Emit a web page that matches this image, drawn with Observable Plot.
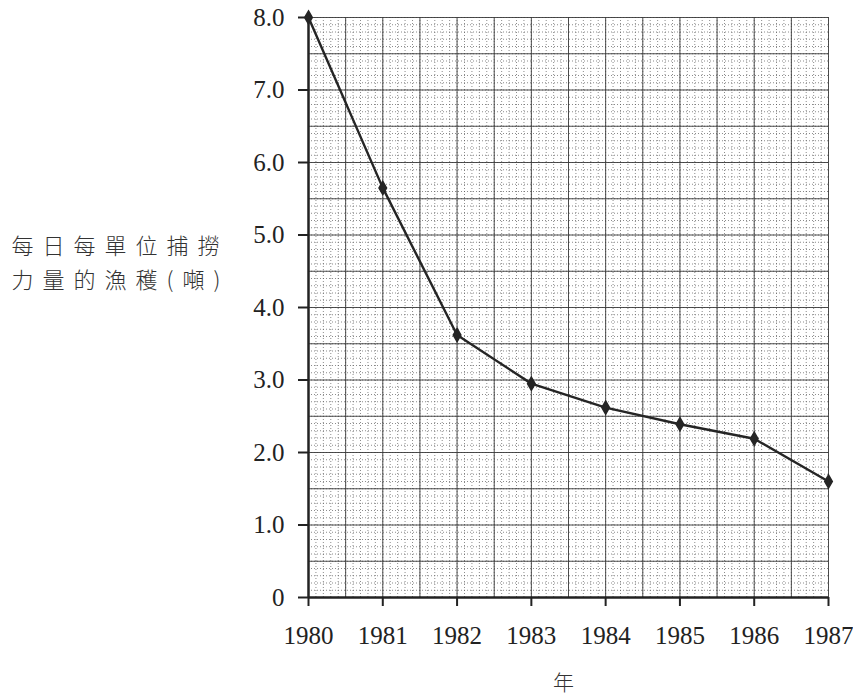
<!DOCTYPE html>
<html><head><meta charset="utf-8">
<script src="https://cdn.jsdelivr.net/npm/d3@7"></script>
<script src="https://cdn.jsdelivr.net/npm/@observablehq/plot@0.6"></script>
<style>
body{margin:0;background:#fff;}
#chart{position:relative;width:853px;height:699px;}
#chart svg text{font-family:'Liberation Serif','Times New Roman',serif;}
#chart svg text.cjk{font-family:'Noto Sans CJK TC',sans-serif;font-weight:300;}
</style>
</head><body><div id="chart"></div>
<script>
const years = [1980, 1981, 1982, 1983, 1984, 1985, 1986, 1987];
const catch_ = [8.0, 5.65, 3.62, 2.95, 2.62, 2.39, 2.19, 1.6];
const yTicks = [0, 1, 2, 3, 4, 5, 6, 7, 8];
const yTickLabels = ["0", "1.0", "2.0", "3.0", "4.0", "5.0", "6.0", "7.0", "8.0"];
const yTitle = "每日每單位捕撈\n力量的漁穫(噸)";
const xTitle = "年";

const data = years.map((y, i) => ({year: y, value: catch_[i]}));
const minorX = d3.range(1980, 1987.0001, 0.1).map(v => +v.toFixed(2));
const minorY = d3.range(0, 8.0001, 0.1).map(v => +v.toFixed(2));
const majorX = d3.range(1980, 1987.0001, 0.5);
const majorY = d3.range(0, 8.0001, 0.5);

const chart = Plot.plot({
  width: 853,
  height: 699,
  marginLeft: 308,
  marginRight: 25,
  marginTop: 17,
  marginBottom: 102,
  style: {fontFamily: "'Liberation Serif', serif", fontSize: "25px", color: "#222", background: "#fff"},
  x: {domain: [1980, 1987]},
  y: {domain: [0, 8]},
  marks: [
    Plot.ruleX(minorX, {x: d => d, stroke: "#555", strokeWidth: 0.8, strokeDasharray: "1,2", strokeOpacity: 0.85}),
    Plot.ruleY(minorY, {y: d => d, stroke: "#555", strokeWidth: 0.8, strokeDasharray: "1,2", strokeOpacity: 0.85}),
    Plot.ruleX(majorX, {x: d => d, stroke: "#3a3a3a", strokeWidth: 0.9}),
    Plot.ruleY(majorY, {y: d => d, stroke: "#3a3a3a", strokeWidth: 0.9}),
    Plot.axisY({ticks: yTicks, tickFormat: d => yTickLabels[yTicks.indexOf(d)], tickSize: 10, tickPadding: 14, label: null, fontSize: 25, stroke: "#222", strokeWidth: 2}),
    Plot.axisX({ticks: years, tickFormat: d => String(d), tickSize: 9, tickPadding: 20, label: null, fontSize: 25, stroke: "#222", strokeWidth: 2}),
    Plot.ruleX([1980], {stroke: "#222", strokeWidth: 2.5}),
    Plot.ruleY([0], {stroke: "#222", strokeWidth: 2.5}),
    Plot.line(data, {x: "year", y: "value", stroke: "#252525", strokeWidth: 2.4}),
    Plot.dot(data, {x: "year", y: "value", symbol: "diamond", r: 4, fill: "#252525", stroke: "#252525"}),
    Plot.text([yTitle], {
      frameAnchor: "left", text: d => d, dx: -297, dy: -47, lineHeight: 1.55,
      textAnchor: "start", fontSize: 22, fill: "#333", className: "cjk"
    }),
    Plot.text([xTitle], {frameAnchor: "bottom", text: d => d, dx: -5, dy: 92, fontSize: 21, fill: "#333", className: "cjk"})
  ]
});
document.getElementById("chart").appendChild(chart);
chart.querySelectorAll("text").forEach(t => {
  const s = t.textContent;
  if (s === xTitle || (s.length > 3 && /[\u4e00-\u9fff]/.test(s))) {
    t.style.fontFamily = "'Noto Sans CJK TC', sans-serif";
    t.style.fontWeight = "300";
    if (s !== xTitle) t.style.letterSpacing = "9px";
  }
});
</script>
</body></html>
